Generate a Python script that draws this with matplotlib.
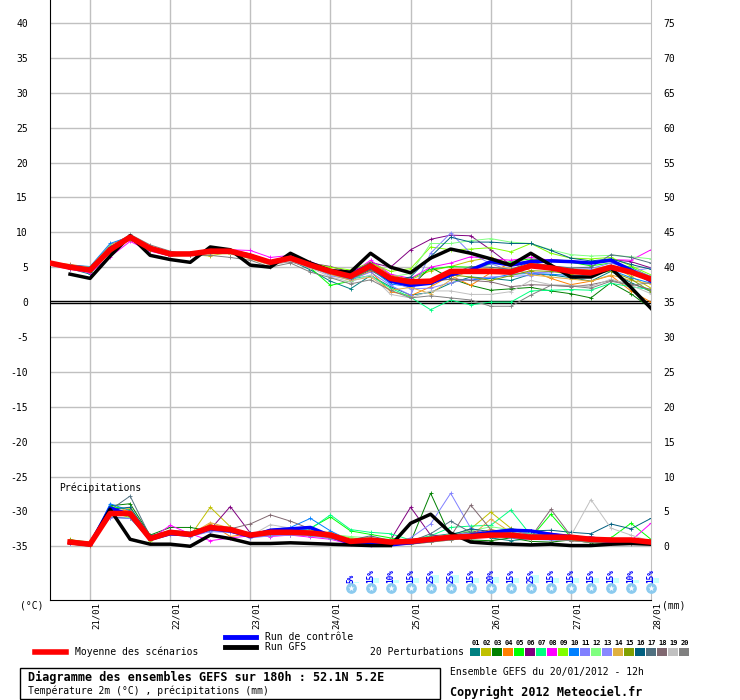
import matplotlib
matplotlib.use('Agg')
import matplotlib.pyplot as plt
from matplotlib.patches import Rectangle
from matplotlib.lines import Line2D
import numpy as np

plt.rcParams['font.family'] = ['DejaVu Sans Mono']
plt.rcParams['axes.unicode_minus'] = False

W, H = 740, 700
nan = np.nan

# echeances toutes les 6h depuis le 20/01 12h
hours = np.arange(0, 181, 6)

date_hours = [12, 36, 60, 84, 108, 132, 156, 180]
date_labels = ['21/01', '22/01', '23/01', '24/01', '25/01', '26/01', '27/01', '28/01']

# temperature 2m (°C)
moyenne_t = [5.6, 5.0, 4.6, 7.5, 9.3, 7.7, 6.9, 6.9, 7.3, 7.3, 6.6, 5.7, 6.3, 5.3, 4.4, 3.7, 5.2, 3.4, 2.9, 3.0, 4.4, 4.4, 4.4, 4.3, 5.2, 4.9, 4.4, 4.2, 5.0, 4.3, 3.3]
controle_t = [5.6, 5.0, 4.6, 7.7, 9.2, 7.6, 6.9, 6.9, 7.2, 7.2, 6.5, 5.7, 6.3, 5.2, 4.4, 3.9, 5.4, 3.0, 2.4, 2.7, 3.9, 4.6, 5.8, 5.3, 5.8, 5.9, 5.8, 5.6, 6.0, 4.6, 3.0]
gfs_t = [nan, 4.0, 3.4, 6.6, 9.5, 6.7, 6.1, 5.7, 7.9, 7.5, 5.3, 5.0, 7.0, 5.6, 4.5, 4.3, 7.0, 5.0, 4.2, 6.3, 7.6, 7.0, 6.2, 5.3, 7.0, 5.3, 3.6, 3.6, 4.9, 2.1, -0.9]

t01 = [5.5, 4.8, 4.0, 7.2, 9.0, 7.5, 6.8, 6.7, 7.1, 7.0, 6.4, 5.5, 6.0, 4.6, 3.0, 1.9, 3.8, 2.2, 1.0, 1.4, 2.7, 3.6, 3.4, 3.1, 4.0, 3.9, 3.5, 3.0, 4.4, 2.8, 1.5]
t02 = [5.6, 5.1, 4.7, 7.9, 9.2, 7.9, 7.0, 6.8, 6.6, 7.2, 6.8, 5.9, 6.6, 5.6, 4.8, 4.1, 5.8, 3.9, 3.2, 4.5, 5.1, 5.9, 6.4, 5.5, 5.6, 5.0, 4.8, 4.6, 5.3, 3.7, 2.0]
t03 = [5.6, 5.0, 4.3, 7.6, 9.1, 7.4, 6.6, 7.0, 7.6, 7.2, 6.5, 5.6, 6.2, 5.0, 4.0, 3.3, 4.6, 2.9, 2.2, 5.0, 3.4, 2.4, 1.7, 1.9, 2.1, 1.6, 1.2, 0.6, 2.8, 1.2, -0.9]
t04 = [5.7, 5.4, 5.0, 8.2, 9.5, 8.0, 7.1, 6.9, 7.4, 6.9, 6.6, 5.8, 6.0, 5.2, 4.2, 3.2, 4.4, 1.5, 0.9, 2.2, 3.8, 2.4, 4.2, 5.6, 4.5, 3.4, 2.5, 3.0, 3.8, 1.6, 0.0]
t05 = [5.5, 4.9, 4.4, 7.5, 9.1, 7.5, 6.6, 6.7, 7.2, 7.1, 6.7, 5.9, 6.4, 4.9, 2.4, 3.0, 4.9, 3.3, 3.4, 4.7, 5.1, 5.0, 5.4, 5.8, 6.2, 5.9, 5.7, 5.2, 5.6, 5.0, 3.6]
t06 = [5.6, 5.0, 4.5, 7.3, 9.2, 7.8, 7.0, 6.9, 7.3, 7.5, 6.9, 5.8, 6.3, 5.6, 5.1, 4.3, 5.7, 5.0, 7.5, 9.0, 9.6, 9.5, 7.5, 5.3, 6.0, 6.1, 5.9, 5.6, 6.1, 5.8, 4.9]
t07 = [5.6, 5.2, 4.7, 7.6, 9.2, 7.6, 6.7, 6.8, 7.2, 7.3, 6.8, 5.9, 6.6, 5.5, 4.1, 3.3, 3.8, 2.0, 0.7, -1.1, 0.3, -0.4, 0.0, 0.0, 1.6, 1.7, 1.8, 1.7, 2.7, 2.2, 1.8]
t08 = [5.3, 4.7, 4.2, 6.5, 8.7, 7.3, 6.6, 7.0, 7.6, 7.5, 7.4, 6.4, 6.7, 5.8, 4.7, 4.0, 6.0, 4.0, 3.4, 5.0, 5.6, 6.5, 6.2, 6.0, 6.4, 6.0, 5.9, 5.6, 6.1, 6.0, 7.5]
t09 = [5.5, 5.0, 4.5, 7.7, 9.0, 7.4, 6.8, 6.8, 7.0, 7.0, 6.5, 5.7, 6.5, 5.6, 5.0, 4.6, 5.6, 4.4, 4.8, 7.9, 7.5, 7.6, 7.8, 7.2, 8.4, 7.0, 6.3, 6.2, 6.4, 5.2, 3.9]
t10 = [5.7, 5.3, 5.1, 8.4, 9.4, 7.9, 7.0, 6.8, 7.3, 7.2, 6.5, 5.5, 6.2, 5.2, 4.1, 3.3, 4.8, 2.6, 2.2, 3.1, 3.3, 3.2, 3.4, 4.0, 4.1, 4.0, 3.8, 3.7, 4.6, 3.5, 2.7]
t11 = [5.5, 4.9, 4.5, 7.4, 9.2, 7.6, 6.7, 6.7, 7.1, 7.3, 6.6, 5.7, 6.3, 5.1, 3.8, 3.2, 4.3, 2.4, 1.0, 7.0, 9.9, 7.0, 5.5, 4.5, 4.2, 4.3, 4.7, 4.8, 5.6, 4.8, 3.7]
t12 = [5.6, 5.2, 5.0, 8.1, 9.1, 7.7, 7.0, 6.9, 7.2, 7.0, 6.6, 5.8, 6.4, 5.4, 4.4, 3.7, 5.5, 3.6, 4.1, 8.4, 8.4, 8.8, 9.1, 8.6, 8.4, 7.5, 6.8, 6.6, 6.7, 6.5, 6.2]
t13 = [5.6, 5.0, 4.6, 7.4, 9.3, 7.7, 6.8, 6.9, 7.4, 7.2, 6.6, 5.6, 6.2, 5.3, 4.3, 3.6, 4.8, 3.1, 1.9, 2.0, 2.8, 3.3, 3.6, 3.7, 3.8, 4.5, 4.3, 4.1, 4.8, 4.4, 4.9]
t14 = [5.6, 5.1, 4.8, 7.7, 9.3, 7.6, 6.7, 6.8, 6.9, 6.9, 6.2, 5.3, 6.0, 5.0, 4.0, 3.1, 3.6, 1.7, 2.1, 1.2, 3.2, 4.6, 4.9, 4.9, 3.9, 3.6, 3.3, 3.0, 3.9, 3.1, 2.6]
t15 = [5.5, 4.9, 4.4, 7.4, 9.1, 7.5, 6.9, 6.9, 7.6, 7.3, 6.5, 5.6, 6.5, 5.7, 4.6, 3.9, 5.0, 3.2, 2.7, 2.6, 3.9, 3.6, 3.1, 3.8, 4.5, 4.4, 4.0, 4.1, 4.4, 3.3, 1.5]
t16 = [5.6, 5.1, 4.6, 7.6, 9.3, 7.8, 7.0, 6.9, 7.3, 7.4, 6.7, 5.8, 6.3, 5.2, 4.3, 3.5, 4.7, 3.0, 3.6, 6.5, 9.3, 8.6, 8.6, 8.4, 8.4, 7.4, 6.3, 5.9, 6.2, 5.4, 4.7]
t17 = [5.6, 5.1, 4.7, 7.6, 9.5, 7.9, 7.1, 7.0, 7.4, 7.4, 6.8, 5.9, 6.4, 5.4, 4.5, 3.8, 5.3, 3.4, 2.6, 2.9, 4.0, 5.1, 5.0, 4.7, 5.7, 5.2, 4.9, 5.0, 6.8, 6.4, 5.6]
t18 = [5.6, 5.1, 4.7, 7.5, 9.4, 7.8, 7.0, 6.8, 7.2, 7.0, 6.4, 5.4, 5.8, 4.9, 4.2, 3.5, 4.6, 3.1, 2.7, 2.9, 3.3, 3.1, 2.9, 2.2, 2.5, 2.4, 2.2, 2.5, 3.1, 2.6, 1.8]
t19 = [5.6, 5.2, 4.8, 7.8, 9.4, 7.9, 7.1, 6.9, 7.4, 7.1, 6.4, 5.3, 5.9, 4.9, 3.6, 2.9, 3.9, 1.1, 0.6, 1.6, 1.6, 1.1, 1.1, 1.5, 3.1, 2.5, 2.4, 2.2, 3.3, 2.4, 1.2]
t20 = [5.6, 5.2, 4.8, 7.9, 9.7, 8.2, 7.3, 6.7, 6.7, 6.4, 6.0, 5.0, 5.6, 4.3, 3.5, 2.6, 3.2, 1.7, 0.6, 0.9, 0.6, 0.3, -0.6, -0.6, 1.0, 2.4, 2.3, 2.0, 3.0, 2.4, 2.8]

# precipitations (mm / 6h)
moyenne_p = [nan, 0.6, 0.3, 4.7, 4.7, 1.1, 2.0, 1.7, 2.7, 2.4, 1.6, 2.0, 2.0, 1.9, 1.6, 0.7, 0.9, 0.6, 0.7, 1.0, 1.3, 1.4, 1.6, 1.6, 1.3, 1.3, 1.3, 1.0, 0.9, 0.9, 0.6]
controle_p = [nan, 0.5, 0.3, 5.5, 4.5, 1.0, 1.8, 1.6, 2.5, 2.2, 1.4, 2.3, 2.5, 2.7, 1.5, 0.4, 0.3, 0.2, 0.5, 0.9, 1.2, 1.6, 2.0, 2.3, 2.2, 1.7, 1.4, 1.0, 0.7, 0.7, 0.5]
gfs_p = [nan, 0.5, 0.2, 5.3, 1.0, 0.3, 0.3, 0.0, 1.6, 1.1, 0.4, 0.4, 0.5, 0.4, 0.3, 0.2, 0.1, 0.1, 3.3, 4.6, 1.9, 0.6, 0.4, 0.3, 0.2, 0.3, 0.1, 0.1, 0.3, 0.4, 0.3]

p01 = [nan, 0.8, 0.2, 4.2, 4.0, 1.2, 1.9, 1.8, 2.5, 2.3, 1.5, 1.5, 1.8, 1.6, 1.3, 0.5, 0.9, 0.6, 0.9, 1.4, 1.8, 2.1, 1.2, 0.8, 1.1, 1.5, 1.2, 0.7, 0.6, 0.8, 0.4]
p02 = [nan, 1.0, 0.4, 5.0, 4.4, 0.9, 2.2, 1.5, 5.6, 2.8, 1.4, 1.9, 1.6, 1.8, 1.2, 0.7, 0.5, 0.3, 0.6, 1.2, 1.5, 2.5, 4.9, 2.6, 1.3, 1.0, 0.9, 0.7, 0.5, 0.6, 0.4]
p03 = [nan, 0.6, 0.3, 5.8, 6.1, 1.6, 2.7, 2.7, 2.2, 2.5, 1.8, 1.8, 2.1, 1.5, 1.4, 0.6, 0.4, 0.3, 0.6, 7.6, 1.3, 0.9, 0.8, 1.2, 0.7, 0.6, 0.9, 0.5, 0.4, 0.5, 0.3]
p04 = [nan, 0.5, 0.1, 4.9, 5.2, 1.2, 1.9, 1.6, 3.2, 1.4, 1.8, 2.2, 2.6, 2.2, 2.0, 0.8, 0.4, 0.2, 0.4, 0.6, 1.1, 1.7, 2.4, 1.9, 2.2, 1.9, 1.2, 0.8, 0.6, 0.5, 0.4]
p05 = [nan, 0.9, 0.6, 5.7, 5.3, 1.4, 2.1, 1.9, 2.6, 2.4, 1.7, 2.0, 2.2, 2.6, 4.2, 2.2, 1.7, 1.2, 0.8, 1.0, 1.4, 2.0, 1.6, 1.4, 1.2, 4.6, 1.3, 0.9, 1.2, 3.3, 1.0]
p06 = [nan, 0.7, 0.4, 4.6, 5.0, 0.9, 1.7, 1.5, 2.4, 5.7, 1.9, 1.5, 1.7, 2.1, 1.6, 0.9, 0.6, 0.9, 5.6, 1.6, 1.5, 2.2, 1.9, 1.5, 1.3, 1.2, 1.0, 1.4, 0.8, 0.6, 0.4]
p07 = [nan, 0.6, 0.4, 5.2, 4.6, 1.3, 2.0, 1.8, 2.6, 2.3, 1.6, 2.1, 2.3, 2.5, 4.5, 2.4, 2.0, 1.8, 0.9, 1.5, 2.7, 2.9, 3.0, 5.2, 1.6, 1.4, 1.2, 1.0, 0.8, 0.7, 0.5]
p08 = [nan, 0.4, 0.2, 4.4, 5.0, 1.0, 3.0, 1.8, 0.8, 1.2, 1.5, 1.4, 1.6, 1.3, 1.0, 0.3, 0.2, 0.5, 0.6, 0.8, 1.1, 1.3, 1.8, 1.5, 2.2, 1.9, 1.4, 1.2, 1.0, 0.8, 3.3]
p09 = [nan, 0.7, 0.3, 5.0, 4.1, 0.8, 1.8, 1.7, 3.0, 2.7, 1.5, 1.7, 2.0, 2.3, 1.8, 1.2, 1.0, 0.5, 0.3, 0.8, 1.2, 1.6, 1.4, 1.8, 1.5, 1.6, 1.0, 0.7, 0.6, 0.5, 0.4]
p10 = [nan, 0.5, 0.2, 6.1, 5.1, 1.3, 1.9, 1.6, 2.8, 2.5, 1.7, 2.4, 2.7, 4.0, 2.2, 0.8, 0.5, 0.3, 0.4, 1.0, 1.4, 1.7, 2.0, 1.6, 1.8, 1.5, 1.3, 1.1, 0.9, 0.7, 0.4]
p11 = [nan, 0.6, 0.4, 4.1, 4.0, 1.0, 1.7, 1.4, 2.1, 2.0, 1.3, 1.6, 1.8, 1.7, 1.2, 0.5, 0.4, 0.3, 1.2, 3.2, 7.6, 2.6, 1.6, 1.2, 1.0, 0.9, 0.8, 0.6, 0.5, 0.4, 0.3]
p12 = [nan, 0.8, 0.5, 5.1, 4.8, 1.2, 2.1, 1.9, 2.5, 2.4, 1.6, 1.9, 2.1, 2.0, 1.7, 1.4, 1.2, 1.0, 0.9, 1.3, 1.7, 2.2, 2.8, 2.4, 1.8, 1.4, 1.2, 1.0, 0.8, 0.6, 0.5]
p13 = [nan, 0.5, 0.3, 4.4, 4.6, 1.1, 1.6, 1.6, 2.3, 2.1, 1.2, 1.5, 1.6, 1.5, 1.1, 0.4, 0.3, 0.2, 0.7, 1.1, 1.6, 1.9, 1.5, 1.3, 1.1, 1.0, 0.9, 0.7, 1.1, 0.5, 0.3]
p14 = [nan, 0.6, 0.3, 4.8, 5.5, 1.0, 1.8, 1.7, 3.4, 2.6, 1.5, 1.8, 1.9, 1.8, 1.4, 0.5, 0.3, 0.2, 0.3, 0.6, 0.9, 1.4, 3.9, 2.0, 1.1, 1.0, 0.8, 0.6, 0.5, 0.6, 0.4]
p15 = [nan, 0.9, 0.5, 4.9, 4.3, 1.3, 2.0, 1.8, 2.6, 2.3, 1.6, 1.8, 2.0, 1.7, 1.3, 0.6, 0.5, 0.3, 0.4, 0.7, 1.0, 1.5, 1.8, 1.4, 1.2, 1.1, 0.9, 0.7, 0.5, 0.4, 0.3]
p16 = [nan, 0.7, 0.3, 5.3, 5.6, 1.5, 2.2, 2.0, 2.9, 2.5, 1.9, 2.1, 2.2, 2.0, 1.6, 0.8, 0.7, 0.5, 0.8, 1.2, 1.6, 2.5, 2.1, 2.5, 2.2, 2.3, 2.0, 1.8, 3.2, 2.5, 4.0]
p17 = [nan, 0.6, 0.3, 5.2, 7.2, 1.4, 2.3, 2.0, 2.7, 2.6, 1.8, 2.0, 2.3, 2.1, 1.7, 0.9, 1.5, 0.8, 0.7, 1.8, 3.6, 2.0, 1.8, 2.0, 1.7, 1.6, 1.4, 1.2, 1.0, 0.9, 0.6]
p18 = [nan, 0.6, 0.4, 4.5, 4.9, 1.2, 1.9, 1.8, 2.6, 2.5, 3.2, 4.5, 3.6, 2.5, 1.6, 0.8, 0.6, 0.4, 0.6, 1.0, 1.4, 5.9, 2.4, 1.6, 1.3, 5.3, 1.5, 1.0, 0.8, 0.7, 0.5]
p19 = [nan, 0.7, 0.4, 4.3, 4.5, 1.1, 1.8, 1.9, 2.6, 2.4, 1.5, 3.1, 2.6, 2.2, 1.5, 0.6, 0.4, 0.2, 0.4, 0.8, 1.2, 1.5, 2.0, 2.2, 1.5, 1.2, 1.5, 6.7, 2.6, 1.6, 0.7]
p20 = [nan, 0.7, 0.3, 4.6, 4.4, 1.0, 1.7, 1.6, 2.7, 2.7, 1.4, 1.7, 1.9, 1.8, 1.2, 0.4, 0.3, 0.2, 0.3, 0.6, 0.9, 1.2, 1.4, 1.7, 1.2, 1.0, 0.8, 0.6, 0.4, 0.3, 0.2]

pert_colors = ['#008080', '#C0C000', '#008000', '#FF8000', '#00FF00', '#800080', '#00FF80',
               '#FF00FF', '#80FF00', '#0080FF', '#8080FF', '#80FF80', '#8888FF', '#E0B040',
               '#80A000', '#005F80', '#507080', '#806870', '#C0C0C0', '#808080']
pert_t = [t01, t02, t03, t04, t05, t06, t07, t08, t09, t10,
          t11, t12, t13, t14, t15, t16, t17, t18, t19, t20]
pert_p = [p01, p02, p03, p04, p05, p06, p07, p08, p09, p10,
          p11, p12, p13, p14, p15, p16, p17, p18, p19, p20]

# risque de neige
snow_hours = [90, 96, 102, 108, 114, 120, 126, 132, 138, 144, 150, 156, 162, 168, 174, 180]
snow_pct = [5, 15, 10, 15, 25, 25, 15, 20, 15, 25, 15, 15, 15, 15, 10, 15]

for s in pert_t + pert_p + [moyenne_t, controle_t, gfs_t, moyenne_p, controle_p, gfs_p]:
    assert len(s) == len(hours)

P_OFF = 35  # les precipitations sont tracees sur l'echelle de gauche, decalees de -35


def fx(x):
    return x / W


def fy(y):
    return 1 - y / H


fig = plt.figure(figsize=(W / 100, H / 100), dpi=100)
ax = fig.add_axes([fx(50), fy(600), 601 / W, 600 / H])
ax.set_xlim(0, 180)
ax.set_ylim(-42.7, 43.3)

grid_c = '#C0C0C0'
for v in range(-35, 41, 5):
    if v != 0:
        ax.axhline(v, color=grid_c, lw=1, zorder=0)
for h in date_hours[:-1]:
    ax.axvline(h, color=grid_c, lw=1, zorder=0)
ax.axhline(0.15, color='black', lw=1, zorder=1)
ax.axhline(-0.15, color='black', lw=1, zorder=1)

ax.spines['top'].set_visible(False)
ax.spines['right'].set_color(grid_c)
ax.spines['left'].set_color('black')
ax.spines['bottom'].set_color('black')
ax.set_xticks([])
ax.set_yticks(range(-35, 41, 5))
ax.tick_params(axis='y', length=0, pad=16, labelsize=7)

sec = ax.secondary_yaxis('right', functions=(lambda y: y + P_OFF, lambda y: y - P_OFF))
sec.set_yticks(range(0, 76, 5))
sec.tick_params(length=0, pad=9, labelsize=7)
sec.spines['right'].set_visible(False)

# perturbations
for t, p, c in zip(pert_t, pert_p, pert_colors):
    ax.plot(hours, t, color=c, lw=0.7, marker='+', ms=3, mew=0.6, zorder=2)
    ax.plot(hours, np.array(p) - P_OFF, color=c, lw=0.7, marker='+', ms=3, mew=0.6, zorder=2)

ax.plot(hours, controle_t, color='#0000FF', lw=2.5, zorder=3)
ax.plot(hours, np.array(controle_p) - P_OFF, color='#0000FF', lw=2.5, zorder=3)
ax.plot(hours, gfs_t, color='black', lw=2.5, zorder=4)
ax.plot(hours, np.array(gfs_p) - P_OFF, color='black', lw=2.5, zorder=4)
ax.plot(hours, moyenne_t, color='#FF0000', lw=4, zorder=5)
ax.plot(hours, np.array(moyenne_p) - P_OFF, color='#FF0000', lw=4, zorder=5)

ax.text(fx(59), fy(488), 'Précipitations', transform=fig.transFigure,
        fontsize=7, va='center', ha='left')

# neige
snow_y = -41.0
ax.bar(np.array(snow_hours) + 1.3, np.array(snow_pct) * 0.046, width=2.4,
       bottom=-40.3, color='#C8FFFF', zorder=1, clip_on=False)
ax.scatter(snow_hours, [snow_y] * len(snow_hours), s=60, color='#8CCBEF', lw=0,
           zorder=6, clip_on=False)
ax.scatter(snow_hours, [snow_y] * len(snow_hours), s=22, marker='*', color='white', lw=0,
           zorder=7, clip_on=False)
for h, pct in zip(snow_hours, snow_pct):
    ax.text(h, -40.2, f'{pct}%', rotation=90, ha='center', va='bottom',
            color='#0000FF', fontsize=5.5, fontweight='bold', zorder=8)

# dates
for h, lab in zip(date_hours, date_labels):
    ax.text(h + 1.8, -0.004, lab, transform=ax.get_xaxis_transform(), rotation=90,
            ha='center', va='top', fontsize=6.5)

fig.text(fx(20), fy(606), '(°C)', fontsize=7, va='center', ha='left')
fig.text(fx(662), fy(606), '(mm)', fontsize=7, va='center', ha='left')

# legende
fig.add_artist(Line2D([fx(35), fx(66)], [fy(652)] * 2, color='#FF0000', lw=4))
fig.text(fx(75), fy(652), 'Moyenne des scénarios', fontsize=7, va='center')
fig.add_artist(Line2D([fx(225), fx(256)], [fy(637)] * 2, color='#0000FF', lw=3.5))
fig.text(fx(265), fy(637), 'Run de contrôle', fontsize=7, va='center')
fig.add_artist(Line2D([fx(225), fx(256)], [fy(647)] * 2, color='black', lw=3.5))
fig.text(fx(265), fy(647), 'Run GFS', fontsize=7, va='center')
fig.text(fx(370), fy(652), '20 Perturbations', fontsize=7, va='center')
for i, c in enumerate(pert_colors):
    x0 = 470 + i * 11
    fig.add_artist(Rectangle((fx(x0), fy(656)), 10 / W, 8 / H, color=c, lw=0))
    fig.text(fx(x0 + 5.5), fy(643), f'{i + 1:02d}', fontsize=5, fontweight='bold',
             ha='center', va='center')

# cartouche
fig.add_artist(Rectangle((fx(20), fy(699)), 420 / W, 31 / H, fill=False, ec='black', lw=1))
fig.text(fx(28), fy(677), 'Diagramme des ensembles GEFS sur 180h : 52.1N 5.2E',
         fontsize=8.5, fontweight='bold', va='center')
fig.text(fx(28), fy(691), 'Température 2m (°C) , précipitations (mm)', fontsize=7, va='center')
fig.text(fx(450), fy(672), 'Ensemble GEFS du 20/01/2012 - 12h', fontsize=7, va='center')
fig.text(fx(450), fy(692), 'Copyright 2012 Meteociel.fr', fontsize=8.5,
         fontweight='bold', va='center')

fig.savefig('out.png', dpi=100, facecolor='white')
